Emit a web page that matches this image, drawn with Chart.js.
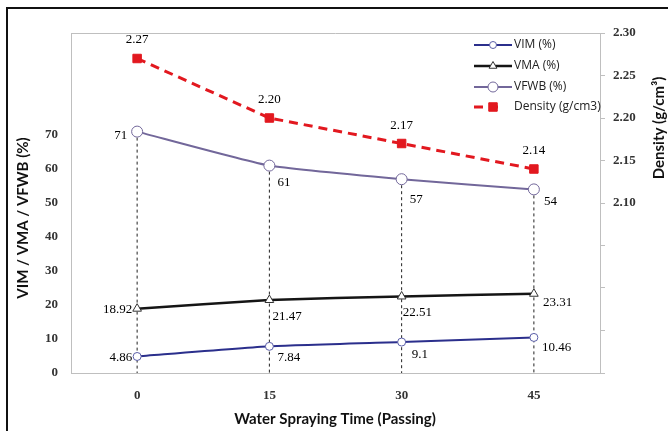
<!DOCTYPE html>
<html>
<head>
<meta charset="utf-8">
<script src="https://cdn.jsdelivr.net/npm/chart.js@4.4.0/dist/chart.umd.min.js"></script>
<style>
  html, body { margin: 0; padding: 0; background: #fff; }
  #wrap { position: relative; width: 668px; height: 431px; overflow: hidden; }
  #frame { position: absolute; left: 6px; top: 7px; width: 800px; height: 600px; border-left: 2px solid #111; border-top: 2px solid #111; }
  canvas { position: absolute; left: 0; top: 0; }
</style>
</head>
<body>
<div id="wrap">
  <div id="frame"></div>
  <canvas id="chart" width="668" height="431"></canvas>
</div>
<script>
// Chart data
const times = ['0', '15', '30', '45'];
const vim = [4.86, 7.84, 9.1, 10.46];
const vma = [18.92, 21.47, 22.51, 23.31];
const vfwb = [71, 61, 57, 54];
const density = [2.27, 2.20, 2.17, 2.14];

const tickFont = { family: "'Liberation Serif', serif", size: 13, weight: 'bold' };
const titleFont = "bold 15px Lato, 'Open Sans', sans-serif";

// label offsets relative to each point: [dx, dy, align]
const vimPos = [[-5, 1, 'right'], [8, 11, 'left'], [10, 13, 'left'], [8, 10, 'left']];
const vmaPos = [[-5, 1, 'right'], [3, 17, 'left'], [1, 16, 'left'], [9, 9, 'left']];
const vfwbPos = [[-10, 4, 'right'], [8, 17, 'left'], [8, 20, 'left'], [10, 12, 'left']];
const densPos = [[0, -19, 'center'], [0, -18, 'center'], [0, -18, 'center'], [0, -18, 'center']];

// dashed drop lines from the top primary series down to the axis
const dropLines = {
    id: 'dropLines',
    beforeDatasetsDraw(chart) {
        const ctx = chart.ctx;
        const x = chart.scales.x, y = chart.scales.y;
        ctx.save();
        ctx.strokeStyle = '#222';
        ctx.lineWidth = 1;
        ctx.setLineDash([3, 3]);
        times.forEach((t, i) => {
            const px = x.getPixelForValue(i);
            const top = Math.max(vim[i], vma[i], vfwb[i]);
            ctx.beginPath();
            ctx.moveTo(px, y.getPixelForValue(top));
            ctx.lineTo(px, chart.chartArea.bottom);
            ctx.stroke();
        });
        ctx.restore();
    }
};

// value labels, legend, titles and the top frame line
const extras = {
    id: 'extras',
    afterDraw(chart) {
        const ctx = chart.ctx;
        const area = chart.chartArea;
        ctx.save();

        // top edge of the plot frame
        ctx.strokeStyle = '#bfbfbf';
        ctx.lineWidth = 1;
        ctx.beginPath();
        ctx.moveTo(area.left, area.top + 0.5);
        ctx.lineTo(area.right, area.top + 0.5);
        ctx.stroke();

        // data labels
        ctx.font = '13px "Liberation Serif", serif';
        ctx.fillStyle = '#000';
        ctx.textBaseline = 'middle';
        chart.data.datasets.forEach((ds, di) => {
            const meta = chart.getDatasetMeta(di);
            meta.data.forEach((pt, j) => {
                const p = ds.labelPos[j];
                const v = ds.yAxisID === 'y2' ? ds.data[j].toFixed(2) : String(ds.data[j]);
                ctx.textAlign = p[2];
                ctx.fillText(v, pt.x + p[0], pt.y + p[1]);
            });
        });

        // legend
        const lx = 474, lw = 38;
        const rows = [45, 66, 87, 107];
        const legendRadius = [3.5, 4.5, 5, 6];
        ctx.font = "12px 'Open Sans', sans-serif";
        chart.data.datasets.forEach((ds, di) => {
            const ry = rows[di];
            ctx.save();
            ctx.strokeStyle = ds.borderColor;
            ctx.lineWidth = ds.borderWidth;
            ctx.setLineDash(ds.borderDash || []);
            ctx.beginPath();
            ctx.moveTo(lx, ry);
            ctx.lineTo(lx + (ds.borderDash ? 26 : lw), ry);
            ctx.stroke();
            ctx.setLineDash([]);
            ctx.fillStyle = ds.pointBackgroundColor;
            ctx.strokeStyle = ds.pointBorderColor;
            ctx.lineWidth = ds.pointBorderWidth;
            Chart.helpers.drawPoint(ctx, {
                pointStyle: ds.pointStyle,
                radius: legendRadius[di],
                borderWidth: ds.pointBorderWidth,
                rotation: 0
            }, lx + 19, ry);
            ctx.restore();
            ctx.fillStyle = '#222';
            ctx.textAlign = 'left';
            ctx.textBaseline = 'middle';
            ctx.fillText(ds.label, lx + lw + 2, ry);
        });

        // axis titles
        ctx.font = titleFont;
        ctx.fillStyle = '#111';
        ctx.textAlign = 'center';
        ctx.textBaseline = 'middle';
        ctx.fillText('Water Spraying Time (Passing)', 335, 419);

        ctx.save();
        ctx.translate(23, 218);
        ctx.rotate(-Math.PI / 2);
        ctx.fillText('VIM / VMA / VFWB (%)', 0, 0);
        ctx.restore();

        ctx.save();
        ctx.translate(659, 128);
        ctx.rotate(-Math.PI / 2);
        ctx.fillText('Density (g/cm\u00B3)', 0, 0);
        ctx.restore();

        ctx.restore();
    }
};

new Chart(document.getElementById('chart'), {
    type: 'line',
    data: {
        labels: times,
        datasets: [
            {
                label: 'VIM (%)',
                data: vim,
                yAxisID: 'y',
                borderColor: '#2b2f8c',
                borderWidth: 2,
                pointStyle: 'circle',
                pointRadius: 4,
                pointBorderWidth: 1,
                pointBackgroundColor: '#fff',
                pointBorderColor: '#5a5ea8',
                tension: 0.15,
                labelPos: vimPos
            },
            {
                label: 'VMA (%)',
                data: vma,
                yAxisID: 'y',
                borderColor: '#151515',
                borderWidth: 2.5,
                pointStyle: 'triangle',
                pointRadius: 5,
                pointBorderWidth: 1,
                pointBackgroundColor: '#fff',
                pointBorderColor: '#333',
                tension: 0.15,
                labelPos: vmaPos
            },
            {
                label: 'VFWB (%)',
                data: vfwb,
                yAxisID: 'y',
                borderColor: '#72679a',
                borderWidth: 2,
                pointStyle: 'circle',
                pointRadius: 5.5,
                pointBorderWidth: 1,
                pointBackgroundColor: '#fff',
                pointBorderColor: '#72679a',
                tension: 0.15,
                labelPos: vfwbPos
            },
            {
                label: 'Density (g/cm3)',
                data: density,
                yAxisID: 'y2',
                borderColor: '#e2181f',
                borderWidth: 3,
                borderDash: [9, 6],
                pointStyle: 'rect',
                pointRadius: 6,
                pointBorderWidth: 1,
                pointBackgroundColor: '#e2181f',
                pointBorderColor: '#e2181f',
                tension: 0,
                labelPos: densPos
            }
        ]
    },
    options: {
        responsive: false,
        animation: false,
        devicePixelRatio: 1,
        layout: { padding: { top: 33, left: 0, right: 0, bottom: 0 } },
        plugins: {
            legend: { display: false },
            tooltip: { enabled: false }
        },
        scales: {
            x: {
                type: 'category',
                offset: true,
                grid: { display: false, drawTicks: false },
                border: { display: true, color: '#bfbfbf', width: 1 },
                ticks: { font: tickFont, color: '#333', padding: 15 },
                afterFit(scale) { scale.height = 58; }
            },
            y: {
                position: 'left',
                min: 0,
                max: 100,
                grid: { display: false, drawTicks: false },
                border: { display: true, color: '#bfbfbf', width: 1 },
                ticks: {
                    stepSize: 10,
                    font: tickFont,
                    color: '#333',
                    padding: 13,
                    callback: v => (v <= 70 ? v : '')
                },
                afterFit(scale) { scale.width = 71; }
            },
            y2: {
                position: 'right',
                min: 1.9,
                max: 2.3,
                grid: { drawOnChartArea: false, drawTicks: true, tickLength: 5, color: '#bfbfbf' },
                border: { display: true, color: '#bfbfbf', width: 1 },
                ticks: {
                    stepSize: 0.05,
                    font: tickFont,
                    color: '#333',
                    padding: 8,
                    callback: v => (v >= 2.099 ? v.toFixed(2) : '')
                },
                afterFit(scale) { scale.width = 68; }
            }
        }
    },
    plugins: [dropLines, extras]
});
</script>
</body>
</html>
